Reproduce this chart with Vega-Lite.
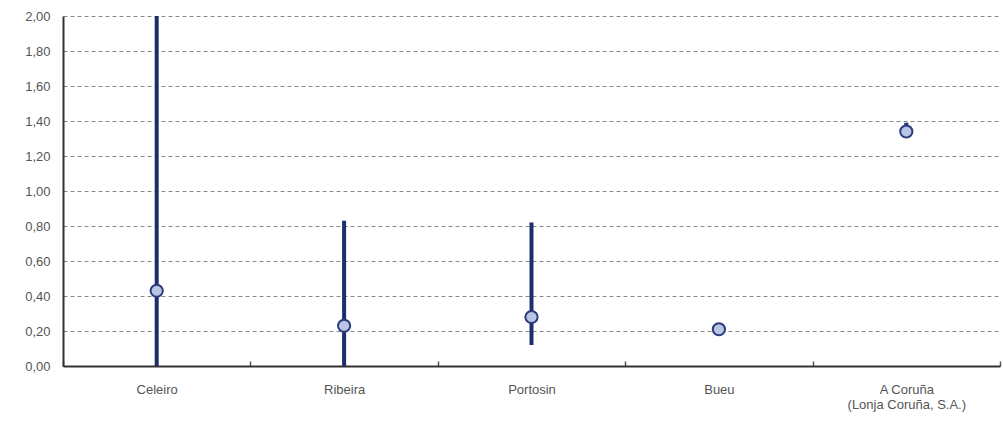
{
  "$schema": "https://vega.github.io/schema/vega-lite/v6.json",
  "autosize": "none",
  "width": 937,
  "height": 350,
  "padding": {"left": 63, "top": 16, "right": 3, "bottom": 56},
  "background": "white",
  "data": {
    "values": [
      {"lonja": "Celeiro", "low": 0, "high": 2.0, "precio": 0.43},
      {"lonja": "Ribeira", "low": 0, "high": 0.83, "precio": 0.23},
      {"lonja": "Portosin", "low": 0.12, "high": 0.82, "precio": 0.28},
      {"lonja": "Bueu", "low": null, "high": null, "precio": 0.21},
      {"lonja": "A Coruña|(Lonja Coruña, S.A.)", "low": 1.31, "high": 1.39, "precio": 1.34}
    ]
  },
  "config": {
    "view": {"stroke": null},
    "font": "Liberation Sans",
    "axisY": {
      "values": [0, 0.2, 0.4, 0.6, 0.8, 1.0, 1.2, 1.4, 1.6, 1.8, 2.0],
      "labelExpr": "replace(format(datum.value, '.2f'), '.', ',')",
      "labelFontSize": 13,
      "labelColor": "#555",
      "labelPadding": 13,
      "labelOverlap": false,
      "ticks": false,
      "domainColor": "#333",
      "domainWidth": 2,
      "grid": true,
      "gridColor": "#888",
      "gridDash": [4, 3],
      "gridWidth": 1,
      "title": null
    }
  },
  "encoding": {
    "x": {
      "field": "lonja",
      "type": "nominal",
      "sort": ["Celeiro", "Ribeira", "Portosin", "Bueu", "A Coruña|(Lonja Coruña, S.A.)"],
      "title": null,
      "scale": {"paddingInner": 0, "paddingOuter": 0},
      "axis": {
        "labelAngle": 0,
        "labelExpr": "split(datum.label, '|')",
        "labelFontSize": 13,
        "labelColor": "#555",
        "labelPadding": 22,
        "labelLineHeight": 15,
        "domainColor": "#333",
        "domainWidth": 2,
        "tickBand": "extent",
        "tickSize": -5,
        "tickColor": "#555",
        "tickWidth": 1.5,
        "grid": false
      }
    }
  },
  "layer": [
    {
      "mark": {"type": "rule", "color": "#1c2f6b", "strokeWidth": 4},
      "encoding": {
        "y": {
          "field": "low",
          "type": "quantitative",
          "scale": {"domain": [0, 2], "nice": false},
          "title": null
        },
        "y2": {"field": "high"}
      }
    },
    {
      "mark": {"type": "point", "shape": "circle", "filled": true, "size": 150, "fill": "#b9c5e3", "stroke": "#2c3d7e", "strokeWidth": 2, "opacity": 1},
      "encoding": {
        "y": {"field": "precio", "type": "quantitative", "title": null}
      }
    }
  ]
}
